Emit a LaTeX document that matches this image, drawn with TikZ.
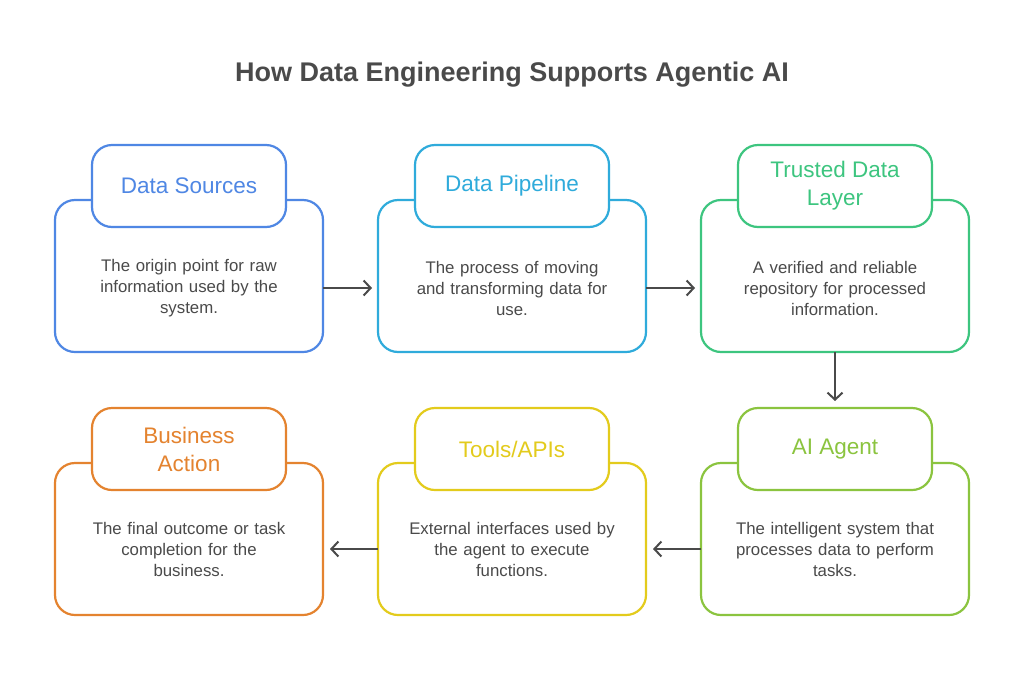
\documentclass[tikz,border=0pt]{standalone}
\usepackage{fontspec}
\setmainfont{Liberation Sans}
\usetikzlibrary{arrows.meta,positioning,calc}
\definecolor{dsblue}{HTML}{4F87E4}
\definecolor{dscyan}{HTML}{2FABDB}
\definecolor{dsgreen}{HTML}{3DC57F}
\definecolor{dslime}{HTML}{8BC43F}
\definecolor{dsyellow}{HTML}{E3CB1C}
\definecolor{dsorange}{HTML}{E4832F}
\definecolor{dsgray}{HTML}{4A4A4A}

\begin{document}
\begin{tikzpicture}[
  node distance=111pt and 55pt,
  stage/.style={draw, line width=2.2pt, rounded corners=20pt, fill=white,
    outer sep=0pt, minimum width=268pt, minimum height=152pt},
  tab/.style={draw, line width=2.2pt, rounded corners=20pt, fill=white,
    outer sep=0pt, minimum width=194pt, minimum height=82pt, align=center,
    font=\fontsize{22.5}{28}\selectfont},
  desc/.style={text=dsgray, align=center, text width=230pt,
    font=\fontsize{16.8}{21}\selectfont},
  flow/.style={-{Straight Barb[length=7pt,width=15pt]}, line width=2pt, dsgray}
]
  \useasboundingbox (0,0) rectangle (1024pt,-699pt);

  % Title
  \node[text=dsgray, font=\fontsize{27}{32}\selectfont\bfseries] (title) at (512pt,-75pt)
    {How Data Engineering Supports Agentic AI};

  % Top row
  \node[stage, draw=dsblue] (src) at (189pt,-276pt) {};
  \node[stage, draw=dscyan, right=of src] (pipe) {};
  \node[stage, draw=dsgreen, right=of pipe] (trust) {};

  % Bottom row
  \node[stage, draw=dslime, below=of trust] (agent) {};
  \node[stage, draw=dsyellow, left=of agent] (tools) {};
  \node[stage, draw=dsorange, left=of tools] (action) {};

  % Tabs
  \node[tab, draw=dsblue, text=dsblue, above=-27pt of src] (srctab) {Data Sources};
  \node[tab, draw=dscyan, text=dscyan, above=-27pt of pipe] (pipetab) {Data Pipeline};
  \node[tab, draw=dsgreen, text=dsgreen, above=-27pt of trust] (trusttab) {Trusted Data\\Layer};
  \node[tab, draw=dslime, text=dslime, above=-27pt of agent] (agenttab) {AI Agent};
  \node[tab, draw=dsyellow, text=dsyellow, above=-27pt of tools] (toolstab) {Tools/APIs};
  \node[tab, draw=dsorange, text=dsorange, above=-27pt of action] (actiontab) {Business\\Action};

  % Descriptions
  \node[desc] (srctxt) at ([yshift=-12pt]src.center)
    {The origin point for raw\\information used by the\\system.};
  \node[desc] (pipetxt) at ([yshift=-12pt]pipe.center)
    {The process of moving\\and transforming data for\\use.};
  \node[desc] (trusttxt) at ([yshift=-12pt]trust.center)
    {A verified and reliable\\repository for processed\\information.};
  \node[desc] (agenttxt) at ([yshift=-10pt]agent.center)
    {The intelligent system that\\processes data to perform\\tasks.};
  \node[desc] (toolstxt) at ([yshift=-10pt]tools.center)
    {External interfaces used by\\the agent to execute\\functions.};
  \node[desc] (actiontxt) at ([yshift=-10pt]action.center)
    {The final outcome or task\\completion for the\\business.};

  % Arrows
  \draw[flow, shorten >=6pt] (src.east |- srctxt) -- (pipe.west |- srctxt);
  \draw[flow, shorten >=6pt] (pipe.east |- pipetxt) -- (trust.west |- pipetxt);
  \draw[flow, shorten >=7pt] (trust.south) -- (agenttab.north);
  \draw[flow, shorten >=7pt] (agent.west |- agenttxt) -- (tools.east |- agenttxt);
  \draw[flow, shorten >=7pt] (tools.west |- toolstxt) -- (action.east |- toolstxt);

\end{tikzpicture}
\end{document}
